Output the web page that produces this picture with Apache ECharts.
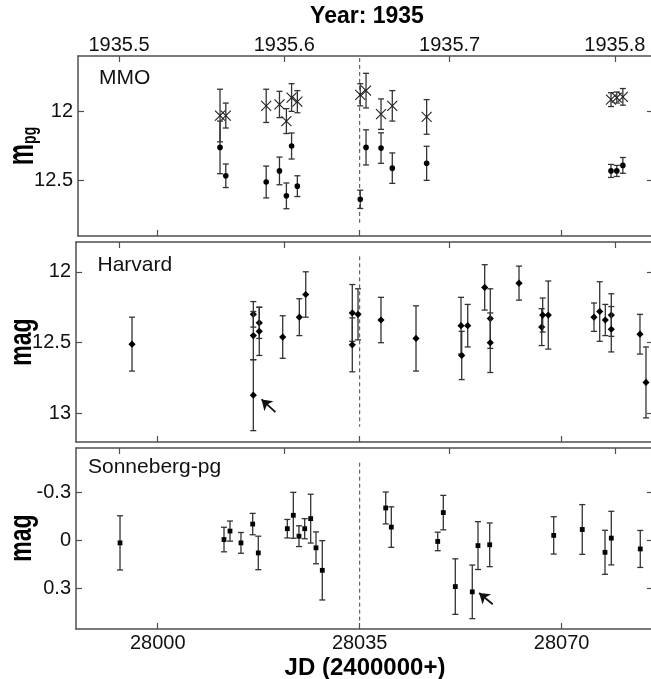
<!DOCTYPE html>
<html><head><meta charset="utf-8">
<script src="https://cdn.jsdelivr.net/npm/echarts@6/dist/echarts.min.js"></script>
<style>html,body{margin:0;padding:0;background:#fff}#c{width:651px;height:679px}</style>
</head><body><div id="c"></div>
<script>
// ---------------- data ----------------
// MMO panel (m_pg): crosses and dots share the same dates
const mmoJD      = [28010.8, 28011.8, 28018.8, 28021.1, 28022.3, 28023.2, 28024.2, 28035.1, 28036.1, 28038.7, 28040.65, 28046.6, 28078.55, 28079.55, 28080.6];
const mmoCross   = [12.03, 12.03, 11.96, 11.95, 12.07, 11.90, 11.93, 11.88, 11.85, 12.02, 11.96, 12.04, 11.915, 11.90, 11.895];
const mmoCrossEr = [0.19, 0.09, 0.12, 0.095, 0.09, 0.10, 0.08, 0.08, 0.125, 0.11, 0.11, 0.125, 0.05, 0.04, 0.06];
const mmoDot     = [12.26, 12.465, 12.51, 12.43, 12.61, 12.25, 12.54, 12.635, 12.26, 12.265, 12.41, 12.375, 12.43, 12.43, 12.39];
const mmoDotEr   = [0.19, 0.085, 0.115, 0.10, 0.093, 0.094, 0.075, 0.066, 0.127, 0.11, 0.11, 0.123, 0.047, 0.04, 0.057];

// Harvard panel (mag)
const harJD  = [27995.55, 28016.57, 28016.57, 28016.57, 28017.6, 28017.6, 28021.66, 28024.54, 28025.65, 28033.72, 28033.72, 28034.71, 28038.69, 28044.76, 28052.56, 28052.68, 28053.72, 28056.66, 28057.63, 28057.63, 28062.61, 28066.54, 28066.71, 28067.68, 28075.6, 28076.59, 28077.56, 28078.6, 28078.6, 28083.57, 28084.61];
const harMag = [12.51, 12.30, 12.45, 12.87, 12.36, 12.42, 12.46, 12.32, 12.16, 12.29, 12.515, 12.30, 12.34, 12.47, 12.38, 12.59, 12.38, 12.11, 12.33, 12.50, 12.08, 12.39, 12.305, 12.305, 12.32, 12.28, 12.34, 12.305, 12.405, 12.44, 12.78];
const harErr = [0.19, 0.09, 0.17, 0.25, 0.11, 0.17, 0.15, 0.13, 0.16, 0.20, 0.19, 0.18, 0.16, 0.23, 0.20, 0.17, 0.15, 0.16, 0.21, 0.21, 0.12, 0.13, 0.12, 0.24, 0.10, 0.21, 0.11, 0.15, 0.16, 0.14, 0.25];

// Sonneberg-pg panel (relative mag)
const sonJD  = [27993.47, 28011.49, 28012.53, 28014.43, 28016.46, 28017.43, 28022.46, 28023.50, 28024.48, 28025.47, 28026.51, 28027.43, 28028.52, 28039.51, 28040.48, 28048.52, 28049.49, 28051.57, 28054.51, 28055.50, 28057.53, 28068.62, 28073.57, 28077.51, 28078.60, 28083.62];
const sonMag = [0.015, -0.006, -0.059, 0.015, -0.103, 0.078, -0.074, -0.158, -0.027, -0.074, -0.137, 0.046, 0.187, -0.204, -0.084, 0.006, -0.175, 0.289, 0.322, 0.032, 0.027, -0.032, -0.069, 0.074, -0.015, 0.053];
const sonErr = [0.17, 0.077, 0.063, 0.065, 0.067, 0.105, 0.058, 0.144, 0.065, 0.063, 0.153, 0.10, 0.186, 0.10, 0.127, 0.058, 0.108, 0.174, 0.168, 0.15, 0.137, 0.117, 0.156, 0.138, 0.168, 0.116];

// reference epoch (dashed line) and its vertical extent per panel
const refJD   = 28035;
const refSpan = [[11.614, 12.804], [11.891, 13.093], [-0.488, 0.517]];

// arrows [panel, fromJD, fromVal, toJD, toVal]
const arrows = [[1, 28020.4, 12.99, 28018.0, 12.90], [2, 28058.05, 0.40, 28055.7, 0.329]];

// ticks
const jdTicks   = [28000, 28035, 28070];
const yearTicks = [1935.5, 1935.6, 1935.7, 1935.8];
const yTicks    = [[12, 12.5], [12, 12.5, 13], [-0.3, 0, 0.3]];
const yRange    = [[11.6, 12.9], [11.79, 13.2], [-0.58, 0.555]];
const panelNames = ['MMO', 'Harvard', 'Sonneberg-pg'];

// ---------------- layout ----------------
const FONT = "'Liberation Sans', Arial, Helvetica, sans-serif";
const AX = '#4f4f4f';
const PX_PER_DAY = 5.771, JD0_X = 157.7;        // 28000 at x=157.7
const PX_PER_YR = 1653, YR0_X = 119;           // 1935.5 at x=119
const grids = [
  {left: 78, top: 56,  width: 575, height: 180, outerBoundsMode: 'none', containLabel: false},
  {left: 76, top: 242, width: 577, height: 200, outerBoundsMode: 'none', containLabel: false},
  {left: 76, top: 448, width: 577, height: 181, outerBoundsMode: 'none', containLabel: false}
];

const chart = echarts.init(document.getElementById('c'), null, {renderer: 'canvas'});

const xAxes = [], yAxes = [], series = [];
grids.forEach((g, i) => {
  const jdMin = 28000 - (JD0_X - g.left) / PX_PER_DAY;
  const jdMax = jdMin + g.width / PX_PER_DAY;
  const yrMin = 1935.5 - (YR0_X - g.left) / PX_PER_YR;
  const yrMax = yrMin + g.width / PX_PER_YR;
  const line = {show: true, onZero: false, lineStyle: {color: AX, width: 1.5}};
  xAxes.push({
    gridIndex: i, type: 'value', position: 'bottom', min: jdMin, max: jdMax,
    axisLine: line, splitLine: {show: false},
    axisTick: {show: true, inside: true, length: 6, customValues: jdTicks, lineStyle: {color: AX, width: 1.2}},
    axisLabel: {show: i === 2, customValues: jdTicks, formatter: v => String(Math.round(v)),
      fontSize: 20, color: '#111', fontFamily: FONT, margin: 4}
  });
  xAxes.push({
    gridIndex: i, type: 'value', position: 'top', min: yrMin, max: yrMax,
    axisLine: line, splitLine: {show: false},
    axisTick: {show: true, inside: true, length: 6, customValues: yearTicks, lineStyle: {color: AX, width: 1.2}},
    axisLabel: {show: i === 0, customValues: yearTicks, formatter: v => v.toFixed(1),
      fontSize: 20, color: '#111', fontFamily: FONT, margin: 1}
  });
  yAxes.push({
    gridIndex: i, type: 'value', position: 'left', inverse: true, min: yRange[i][0], max: yRange[i][1],
    axisLine: line, splitLine: {show: false},
    axisTick: {show: true, inside: true, length: 6, customValues: yTicks[i], lineStyle: {color: AX, width: 1.2}},
    axisLabel: {show: true, customValues: yTicks[i], formatter: v => String(+v.toFixed(2)),
      fontSize: 20, color: '#111', fontFamily: FONT, margin: 5}
  });
  yAxes.push({
    gridIndex: i, type: 'value', position: 'right', inverse: true, min: yRange[i][0], max: yRange[i][1],
    axisLine: line, splitLine: {show: false},
    axisTick: {show: true, inside: true, length: 6, customValues: yTicks[i], lineStyle: {color: AX, width: 1.2}},
    axisLabel: {show: false}
  });
});

function makeRender(kind, ms) {
  return function (params, api) {
    const x = api.value(0), y = api.value(1), e = api.value(2);
    const p = api.coord([x, y]);
    const a = api.coord([x, y - e]);
    const b = api.coord([x, y + e]);
    const cap = 3;
    const es = {stroke: '#333', lineWidth: 1.3};
    const ch = [
      {type: 'line', shape: {x1: p[0], y1: a[1], x2: p[0], y2: b[1]}, style: es},
      {type: 'line', shape: {x1: p[0] - cap, y1: a[1], x2: p[0] + cap, y2: a[1]}, style: es},
      {type: 'line', shape: {x1: p[0] - cap, y1: b[1], x2: p[0] + cap, y2: b[1]}, style: es}
    ];
    if (kind === 'cross') {
      const cs = {stroke: '#222', lineWidth: 1.1};
      ch.push({type: 'line', shape: {x1: p[0] - ms, y1: p[1] - ms, x2: p[0] + ms, y2: p[1] + ms}, style: cs});
      ch.push({type: 'line', shape: {x1: p[0] - ms, y1: p[1] + ms, x2: p[0] + ms, y2: p[1] - ms}, style: cs});
    } else if (kind === 'dot') {
      ch.push({type: 'circle', shape: {cx: p[0], cy: p[1], r: ms}, style: {fill: '#000'}});
    } else if (kind === 'diamond') {
      ch.push({type: 'polygon', shape: {points: [[p[0], p[1] - ms], [p[0] + ms, p[1]], [p[0], p[1] + ms], [p[0] - ms, p[1]]]}, style: {fill: '#000'}});
    } else {
      ch.push({type: 'rect', shape: {x: p[0] - ms, y: p[1] - ms, width: 2 * ms, height: 2 * ms}, style: {fill: '#000'}});
    }
    return {type: 'group', children: ch};
  };
}
const zip = (xs, ys, es) => xs.map((x, k) => [x, ys[k], es[k]]);

function errSeries(panel, data, kind, ms) {
  return {
    type: 'custom', xAxisIndex: panel * 2, yAxisIndex: panel * 2,
    renderItem: makeRender(kind, ms), data: data, encode: {x: 0, y: 1}, silent: true, z: 5
  };
}
series.push(errSeries(0, zip(mmoJD, mmoCross, mmoCrossEr), 'cross', 5));
series.push(errSeries(0, zip(mmoJD, mmoDot, mmoDotEr), 'dot', 2.8));
series.push(errSeries(1, zip(harJD, harMag, harErr), 'diamond', 3.6));
series.push(errSeries(2, zip(sonJD, sonMag, sonErr), 'square', 2.4));

refSpan.forEach((s, i) => {
  const arr = arrows.filter(a => a[0] === i);
  series.push({
    type: 'line', xAxisIndex: i * 2, yAxisIndex: i * 2, silent: true, symbol: 'none',
    data: [[refJD, s[0]], [refJD, s[1]]],
    lineStyle: {color: '#444', width: 1, type: [4, 3]}, z: 2,
    markLine: arr.length ? {
      silent: true, symbol: ['none', 'arrow'], symbolSize: 10,
      lineStyle: {color: '#111', width: 1.8, type: 'solid'}, itemStyle: {color: '#111'},
      label: {show: false},
      data: arr.map(a => [{coord: [a[1], a[2]]}, {coord: [a[3], a[4]]}])
    } : undefined
  });
});

const labelPos = [[99, 78], [97.5, 265], [88, 467.5]];
const graphic = [];
panelNames.forEach((n, i) => graphic.push({
  type: 'text', x: labelPos[i][0], y: labelPos[i][1], silent: true,
  style: {text: n, font: '21px ' + FONT, fill: '#111', align: 'left', verticalAlign: 'middle'}
}));
graphic.push({
  type: 'text', x: 23, y: 146, rotation: Math.PI / 2, scaleY: 1.5, silent: true,
  style: {text: '{m|m}{s|pg}', align: 'center', verticalAlign: 'middle',
    rich: {m: {fontSize: 24, fontWeight: 'bold', fontFamily: FONT, fill: '#000'},
           s: {fontSize: 14, fontWeight: 'bold', fontFamily: FONT, fill: '#000', verticalAlign: 'bottom'}}}
});
graphic.push({
  type: 'text', x: 22, y: 342, rotation: Math.PI / 2, scaleY: 1.35, silent: true,
  style: {text: 'mag', font: 'bold 23px ' + FONT, fill: '#000', align: 'center', verticalAlign: 'middle'}
});
graphic.push({
  type: 'text', x: 22, y: 538, rotation: Math.PI / 2, scaleY: 1.35, silent: true,
  style: {text: 'mag', font: 'bold 23px ' + FONT, fill: '#000', align: 'center', verticalAlign: 'middle'}
});
graphic.push({
  type: 'text', x: 367, y: 17, silent: true,
  style: {text: 'Year: 1935', font: 'bold 23px ' + FONT, fill: '#000', align: 'center', verticalAlign: 'middle'}
});
graphic.push({
  type: 'text', x: 365, y: 668.5, silent: true,
  style: {text: 'JD (2400000+)', font: 'bold 24px ' + FONT, fill: '#000', align: 'center', verticalAlign: 'middle'}
});

chart.setOption({
  animation: false,
  backgroundColor: '#fff',
  grid: grids,
  xAxis: xAxes,
  yAxis: yAxes,
  series: series,
  graphic: graphic
});
</script>
</body></html>
